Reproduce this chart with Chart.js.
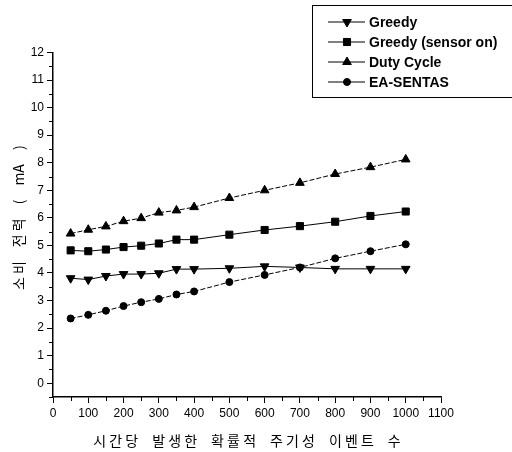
<!DOCTYPE html>
<html>
<head>
<meta charset="utf-8">
<script src="https://cdn.jsdelivr.net/npm/chart.js@4/dist/chart.umd.min.js"></script>
<style>
  body { margin: 0; background: #fff; }
  #wrap { width: 512px; height: 452px; }
</style>
</head>
<body>
<div id="wrap"><canvas id="chart" width="512" height="452"></canvas></div>
<script>
// events per hour (x) and current draw in mA for each scheme
const xValues = [50, 100, 150, 200, 250, 300, 350, 400, 500, 600, 700, 800, 900, 1000];
const greedy = [3.81, 3.76, 3.89, 3.96, 3.96, 3.99, 4.14, 4.14, 4.17, 4.24, 4.20, 4.15, 4.15, 4.15];
const greedySensorOn = [4.82, 4.79, 4.85, 4.94, 4.99, 5.07, 5.21, 5.21, 5.39, 5.56, 5.70, 5.86, 6.07, 6.23];
const dutyCycle = [5.43, 5.57, 5.69, 5.88, 5.99, 6.19, 6.27, 6.39, 6.72, 7.00, 7.27, 7.59, 7.84, 8.12];
const eaSentas = [2.35, 2.48, 2.63, 2.80, 2.94, 3.06, 3.22, 3.33, 3.67, 3.93, 4.20, 4.53, 4.79, 5.04];

const seriesNames = ['Greedy', 'Greedy (sensor on)', 'Duty Cycle', 'EA-SENTAS'];
const yTicks = [0, 1, 2, 3, 4, 5, 6, 7, 8, 9, 10, 11, 12];

// the scanned figure uses wide, typewriter-like spacing (ideographic spaces between words)
const WS = '\u3000';
const xTitle = ['시 간 당', '발 생 한', '확 률 적', '주 기 성', '이 벤 트', '수'].join(WS);
const yTitle = WS + '소 비' + WS + '전 력' + WS + '(' + WS + 'mA' + WS + ')';

function toPoints(ys) {
    return xValues.map(function(x, i) { return { x: x, y: ys[i] }; });
}

Chart.defaults.font.family = '"Liberation Sans Narrow", "Liberation Sans", Arial, sans-serif';
Chart.defaults.color = '#000';

// legend box drawn over the top right corner, like the original figure
const boxLegend = {
    id: 'boxLegend',
    afterDraw: function(chart) {
        const ctx = chart.ctx;
        ctx.save();
        ctx.strokeStyle = '#000';
        ctx.lineWidth = 1;
        ctx.strokeRect(312.5, 5.5, 210, 92);
        ctx.font = 'bold 14px "Liberation Sans", Arial, sans-serif';
        ctx.textBaseline = 'middle';
        chart.data.datasets.forEach(function(ds, i) {
            const y = 22 + i * 20;
            ctx.strokeStyle = '#000';
            ctx.setLineDash([]);
            ctx.lineWidth = 1;
            ctx.beginPath();
            ctx.moveTo(328, y);
            ctx.lineTo(365, y);
            ctx.stroke();
            ctx.fillStyle = '#000';
            Chart.helpers.drawPoint(ctx, {
                pointStyle: ds.pointStyle,
                rotation: ds.pointRotation || 0,
                radius: ds.pointRadius,
                borderWidth: 1
            }, 347, y);
            ctx.fillStyle = '#000';
            ctx.fillText(ds.label, 369, y + 1);
        });
        ctx.restore();
    }
};

// short minor ticks between the labelled ones
const minorTicks = {
    id: 'minorTicks',
    afterDraw: function(chart) {
        const ctx = chart.ctx;
        const xs = chart.scales.x;
        const ys = chart.scales.y;
        ctx.save();
        ctx.strokeStyle = '#000';
        ctx.lineWidth = 1;
        ctx.beginPath();
        for (let v = 50; v < 1100; v += 100) {
            const px = Math.round(xs.getPixelForValue(v)) + 0.5;
            ctx.moveTo(px, chart.chartArea.bottom);
            ctx.lineTo(px, chart.chartArea.bottom + 4);
        }
        for (let v = -0.5; v < 12; v += 1) {
            const py = Math.round(ys.getPixelForValue(v)) + 0.5;
            ctx.moveTo(chart.chartArea.left, py);
            ctx.lineTo(chart.chartArea.left - 4, py);
        }
        ctx.stroke();
        ctx.restore();
    }
};

function renderChart() {
    const ctx = document.getElementById('chart').getContext('2d');
    new Chart(ctx, {
        type: 'line',
        data: {
            datasets: [{
                label: seriesNames[0],
                data: toPoints(greedy),
                borderColor: '#000',
                backgroundColor: '#000',
                borderWidth: 1,
                pointStyle: 'triangle',
                pointRotation: 180,
                pointRadius: 5
            }, {
                label: seriesNames[1],
                data: toPoints(greedySensorOn),
                borderColor: '#000',
                backgroundColor: '#000',
                borderWidth: 1,
                pointStyle: 'rect',
                pointRadius: 5
            }, {
                label: seriesNames[2],
                data: toPoints(dutyCycle),
                borderColor: '#000',
                backgroundColor: '#000',
                borderWidth: 1,
                borderDash: [5, 2],
                pointStyle: 'triangle',
                pointRadius: 5
            }, {
                label: seriesNames[3],
                data: toPoints(eaSentas),
                borderColor: '#000',
                backgroundColor: '#000',
                borderWidth: 1,
                borderDash: [5, 2],
                pointStyle: 'circle',
                pointRadius: 3.5
            }]
        },
        options: {
            responsive: false,
            animation: false,
            layout: { padding: { top: 52.5, right: 71, left: 0, bottom: 0 } },
            plugins: {
                legend: { display: false },
                tooltip: { enabled: false }
            },
            elements: {
                line: { tension: 0 },
                point: { borderWidth: 1, borderColor: '#000' }
            },
            scales: {
                x: {
                    type: 'linear',
                    min: 0,
                    max: 1100,
                    ticks: {
                        stepSize: 100,
                        autoSkip: false,
                        padding: 3,
                        font: { size: 12 },
                        maxRotation: 0,
                        callback: function(v) { return String(v); }
                    },
                    grid: { display: true, drawOnChartArea: false, drawTicks: true, tickLength: 6, color: '#000' },
                    border: { display: true, color: '#000', width: 1.5 },
                    title: {
                        display: true,
                        text: xTitle,
                        font: { family: '"Noto Sans CJK KR", sans-serif', size: 14 },
                        padding: { top: 0, bottom: 3 }
                    },
                    afterFit: function(scale) { scale.height = 55; }
                },
                y: {
                    min: -0.5,
                    max: 12,
                    afterBuildTicks: function(scale) {
                        scale.ticks = yTicks.map(function(v) { return { value: v }; });
                    },
                    ticks: { padding: 3, font: { size: 12 }, autoSkip: false },
                    grid: { display: true, drawOnChartArea: false, drawTicks: true, tickLength: 6, color: '#000' },
                    border: { display: true, color: '#000', width: 1.5 },
                    title: {
                        display: true,
                        text: yTitle,
                        font: { family: '"Noto Sans CJK KR", sans-serif', size: 14 },
                        padding: { top: 10, bottom: 0 }
                    },
                    afterFit: function(scale) { scale.width = 53; }
                }
            }
        },
        plugins: [minorTicks, boxLegend]
    });
}

document.addEventListener('DOMContentLoaded', function() {
    renderChart();
});
</script>
</body>
</html>
